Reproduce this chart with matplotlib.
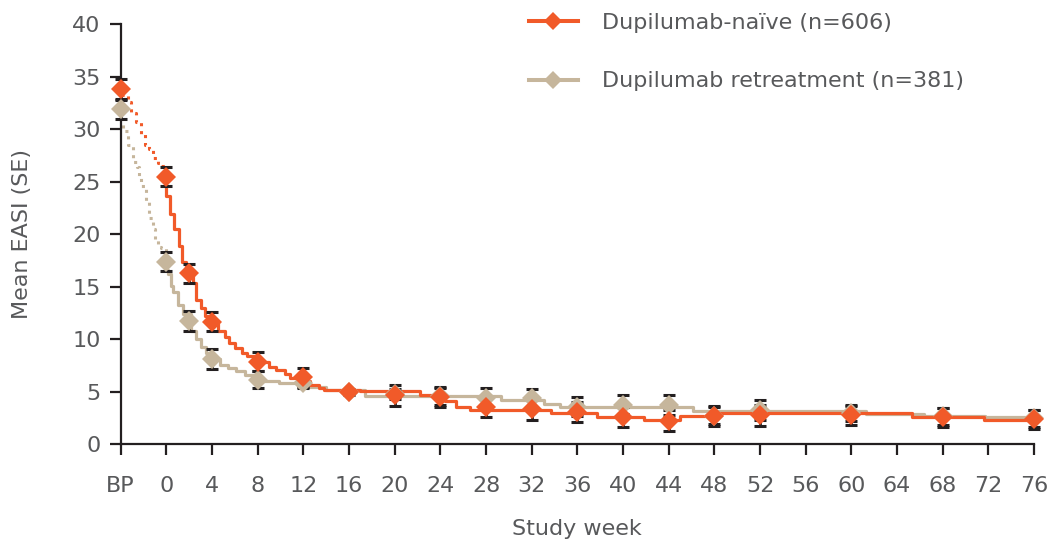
import numpy as np
import matplotlib.pyplot as plt
from matplotlib.lines import Line2D

# BP (baseline of parent study) is drawn one tick left of week 0
BP_POS = -4

# scheduled visits with mean EASI and SE
visits = ['BP', 0, 2, 4, 8, 12, 16, 20, 24, 28, 32, 36, 40, 44, 48, 52, 60, 68, 76]
naive_mean = [33.8, 25.5, 16.3, 11.7, 7.9, 6.4, 5.0, 4.7, 4.5, 3.6, 3.35, 3.1, 2.6, 2.25, 2.7, 2.8, 2.8, 2.6, 2.4]
naive_se = [1.0, 0.9, 0.9, 0.9, 0.9, 0.9, 0.2, 1.0, 0.95, 0.95, 1.0, 0.95, 0.95, 1.0, 0.95, 1.0, 0.9, 0.9, 0.9]
retreat_mean = [31.9, 17.4, 11.8, 8.1, 6.15, 5.9, 5.0, 4.8, 4.6, 4.4, 4.4, 3.6, 3.8, 3.8, 2.75, 3.25, 3.0, 2.7, 2.5]
retreat_se = [0.95, 0.9, 0.95, 0.95, 0.8, 0.5, 0.3, 0.5, 0.8, 0.95, 0.9, 0.9, 0.9, 0.95, 0.8, 0.95, 0.8, 0.8, 0.8]

# running means, BP -> week 0 (dotted part)
naive_pre_wk = [-4.0, -3.4, -3.1, -2.7, -2.2, -1.9, -1.5, -1.2, -0.7, -0.45, 0.0]
naive_pre_val = [33.3, 32.6, 31.6, 30.7, 29.6, 28.5, 28.1, 27.3, 26.8, 26.5, 25.5]
retreat_pre_wk = [-4.0, -3.8, -3.4, -2.9, -2.6, -2.4, -2.2, -1.8, -1.5, -1.2, -1.0, -0.7, -0.45, 0.0]
retreat_pre_val = [31.0, 29.8, 28.5, 26.9, 26.4, 25.5, 24.6, 23.2, 21.6, 20.5, 19.6, 18.8, 18.7, 17.4]

# running means from week 0 on (solid part)
naive_wk = [0.0, 0.34, 0.63, 1.1, 1.4, 1.74, 2.3, 2.6, 3.06, 3.35, 3.8, 4.5, 5.1, 5.5, 6.0, 6.6, 7.1,
            8.0, 9.0, 9.6, 10.4, 10.8, 12.1, 12.6, 13.4, 13.8, 17.0, 22.2, 24.4, 25.4, 26.6, 33.7,
            37.7, 41.8, 45.0, 47.9, 65.3, 71.6, 76.0]
naive_val = [23.7, 21.9, 20.5, 18.9, 17.4, 16.6, 15.4, 13.8, 13.0, 12.2, 11.7, 10.8, 10.2, 9.7, 9.2, 8.7, 8.4,
             7.9, 7.4, 7.1, 6.7, 6.35, 6.0, 5.7, 5.4, 5.2, 5.05, 4.7, 4.1, 3.6, 3.3, 3.0,
             2.6, 2.3, 2.7, 3.0, 2.6, 2.35, 2.35]
retreat_wk = [0.0, 0.13, 0.43, 0.57, 1.0, 1.5, 2.2, 2.6, 3.06, 3.5, 4.05, 4.66, 5.4, 6.1, 6.85,
              8.0, 8.5, 9.9, 12.5, 14.0, 17.4, 29.3, 33.1, 34.5, 46.1, 61.3, 66.4, 71.7, 76.0]
retreat_val = [16.6, 16.2, 15.1, 14.5, 13.3, 12.4, 10.8, 10.0, 9.3, 8.7, 8.15, 7.6, 7.3, 6.95, 6.6,
               6.15, 6.0, 5.85, 5.5, 5.2, 4.6, 4.25, 3.85, 3.6, 3.15, 2.9, 2.7, 2.6, 2.6]

tick_labels = ['BP'] + [str(w) for w in range(0, 77, 4)]
legend_labels = ['Dupilumab-naïve (n=606)', 'Dupilumab retreatment (n=381)']

ORANGE = '#F15A29'
TAN = '#C6B69C'
INK = '#231F20'
GREY = '#58595B'

plt.rcParams['font.family'] = ['DejaVu Sans']


def to_x(v):
    return BP_POS if v == 'BP' else v


def draw_group(ax, pre_wk, pre_val, wk, val, mean, se, color, z):
    ax.plot(pre_wk, pre_val, drawstyle='steps-post', color=color, lw=2.2,
            linestyle=(0, (1, 1.6)), zorder=z, clip_on=False)
    ax.plot(np.r_[pre_wk[-1], wk], np.r_[pre_val[-1], val], drawstyle='steps-post',
            color=color, lw=2.3, zorder=z, clip_on=False)
    x = [to_x(v) for v in visits]
    eb = ax.errorbar(x, mean, yerr=se, fmt='none', ecolor=INK, elinewidth=2.0,
                     capsize=4.2, capthick=2.2, zorder=z + 2)
    for art in eb.lines[1] + eb.lines[2]:
        art.set_clip_on(False)
    ax.plot(x, mean, linestyle='none', marker='D', ms=10.5, color=color,
            markeredgewidth=0, zorder=z + 4, clip_on=False)


fig = plt.figure(figsize=(10.53, 5.46), dpi=100)
ax = fig.add_axes([0.1146, 0.1859, 0.8674, 0.7696])

draw_group(ax, retreat_pre_wk, retreat_pre_val, retreat_wk, retreat_val,
           retreat_mean, retreat_se, TAN, 2)
draw_group(ax, naive_pre_wk, naive_pre_val, naive_wk, naive_val,
           naive_mean, naive_se, ORANGE, 3)

ax.set_xlim(BP_POS, 76)
ax.set_ylim(0, 40)
ax.set_xticks(range(BP_POS, 77, 4))
ax.set_xticklabels(tick_labels)
ax.set_yticks(range(0, 41, 5))

for side in ['top', 'right']:
    ax.spines[side].set_visible(False)
for side in ['left', 'bottom']:
    ax.spines[side].set_color(INK)
    ax.spines[side].set_linewidth(1.6)

ax.tick_params(axis='both', direction='out', length=8, width=1.6, color=INK,
               labelsize=16, labelcolor=GREY)
ax.tick_params(axis='x', pad=15)
ax.tick_params(axis='y', pad=6.5)

ax.set_xlabel('Study week', fontsize=16, color=GREY)
ax.set_ylabel('Mean EASI (SE)', fontsize=16, color=GREY)
ax.xaxis.set_label_coords(0.5, -0.177)
ax.yaxis.set_label_coords(-0.097, 0.5)

handles = [Line2D([], [], color=ORANGE, lw=2.9, marker='D', ms=9.4, markeredgewidth=0),
           Line2D([], [], color=TAN, lw=2.9, marker='D', ms=9.4, markeredgewidth=0)]
ax.legend(handles, legend_labels, loc='upper left', bbox_to_anchor=(0.5024, 0.976),
          bbox_transform=fig.transFigure, frameon=False, fontsize=16,
          handlelength=2.2, handletextpad=1.1, labelspacing=1.72,
          borderpad=0, borderaxespad=0, labelcolor=GREY)

fig.savefig('out.png', dpi=100)
